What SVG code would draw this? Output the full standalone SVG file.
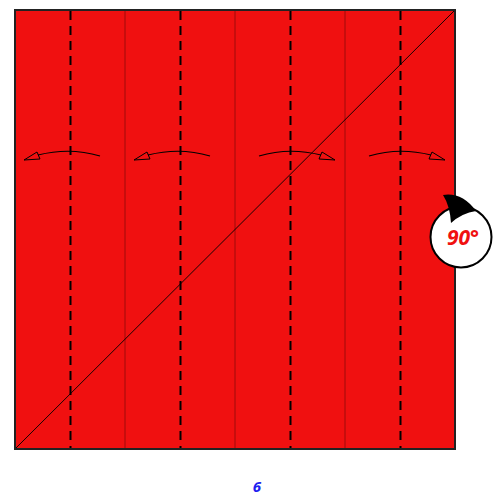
<svg xmlns="http://www.w3.org/2000/svg" width="502" height="499" viewBox="0 0 502 499">
<style>
.fold{stroke:#000;stroke-width:2;stroke-dasharray:9,6;fill:none}
.crease{stroke:#8a0a0a;stroke-width:0.8;fill:none}
.arc{stroke:#000;stroke-width:1.2;fill:none}
.head{stroke:#000;stroke-width:1;fill:none;stroke-linejoin:miter}
</style>
<rect width="502" height="499" fill="#fff"/>
<g id="paper">
<rect x="15" y="10" width="440" height="439" fill="#F01010" stroke="#222" stroke-width="2"/>
</g>
<g id="connectors">
<line class="crease" x1="125" y1="11" x2="125" y2="448"/>
<line class="crease" x1="235" y1="11" x2="235" y2="448"/>
<line class="crease" x1="345" y1="11" x2="345" y2="448"/>
<line x1="16" y1="448" x2="454" y2="11" stroke="#000" stroke-width="0.9"/>
<line class="fold" x1="70.5" y1="11" x2="70.5" y2="448"/>
<line class="fold" x1="180.5" y1="11" x2="180.5" y2="448"/>
<line class="fold" x1="290.5" y1="11" x2="290.5" y2="448"/>
<line class="fold" x1="400.5" y1="11" x2="400.5" y2="448"/>
<path class="arc" d="M100,156 Q70,147 38,155"/>
<path class="head" d="M24,160 L37,152 L40,159 Z"/>
<path class="arc" d="M210,156 Q180,147 148,155"/>
<path class="head" d="M134,160 L147,152 L150,159 Z"/>
<path class="arc" d="M259,156 Q289,147 321,155"/>
<path class="head" d="M335,160 L322,152 L319,159 Z"/>
<path class="arc" d="M369,156 Q399,147 431,155"/>
<path class="head" d="M445,160 L432,152 L429,159 Z"/>
</g>
<g id="rotate">
<circle cx="461" cy="237" r="30.5" fill="#fff" stroke="#000" stroke-width="2"/>
<path d="M443,195 Q462,192 476,211 Q462,213 451,223 Q450,206 443,195 Z" fill="#000"/>
<text x="463" y="245" font-family="Open Sans, sans-serif" font-size="21" font-weight="bold" font-style="italic" fill="#F01010" text-anchor="middle">90°</text>
</g>
<g id="step">
<text x="257" y="492" font-family="Open Sans, sans-serif" font-size="15" font-weight="bold" font-style="italic" fill="#2020F0" text-anchor="middle">6</text>
</g>
</svg>
